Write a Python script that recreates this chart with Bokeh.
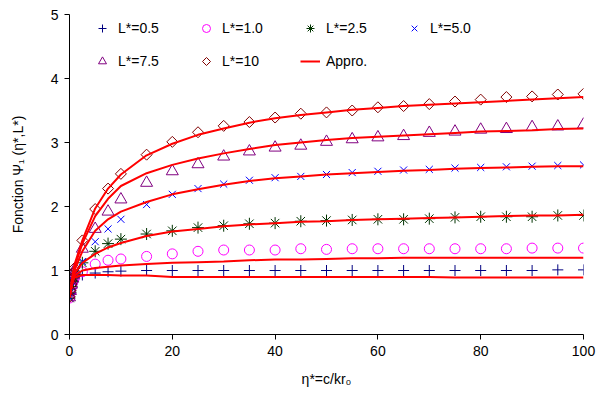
from bokeh.plotting import figure
from bokeh.models import Range1d, FixedTicker, Legend, LegendItem, CustomJS
from bokeh.embed import file_html
from bokeh.resources import INLINE

# ---- data ----
eta = [0, 0.2, 0.4, 0.6, 0.8, 1.0, 2.5, 5, 7.5, 10, 15, 20, 25, 30, 35, 40,
       45, 50, 55, 60, 65, 70, 75, 80, 85, 90, 95, 100]

psi_L05 = [0.56, 0.64, 0.72, 0.79, 0.84, 0.87, 0.93, 0.96, 0.98, 0.99, 1.00, 1.00,
           1.00, 1.00, 1.00, 1.00, 1.00, 1.00, 1.00, 1.00, 1.00, 1.00, 1.00, 1.00,
           1.00, 1.00, 1.01, 1.01]
psi_L1 = [0.57, 0.66, 0.74, 0.81, 0.86, 0.90, 0.98, 1.10, 1.16, 1.18, 1.22, 1.26,
          1.30, 1.32, 1.32, 1.32, 1.34, 1.33, 1.34, 1.34, 1.34, 1.34, 1.34, 1.34,
          1.34, 1.35, 1.35, 1.35]
psi_L25 = [0.57, 0.66, 0.75, 0.83, 0.89, 0.94, 1.12, 1.30, 1.42, 1.49, 1.57, 1.62,
           1.67, 1.70, 1.73, 1.74, 1.77, 1.78, 1.79, 1.80, 1.80, 1.81, 1.83, 1.84,
           1.84, 1.84, 1.86, 1.86]
psi_L5 = [0.58, 0.67, 0.76, 0.85, 0.92, 0.97, 1.14, 1.45, 1.65, 1.80, 2.03, 2.19,
          2.28, 2.35, 2.41, 2.45, 2.47, 2.50, 2.53, 2.55, 2.57, 2.58, 2.60, 2.61,
          2.62, 2.63, 2.64, 2.65]
psi_L75 = [0.58, 0.68, 0.78, 0.87, 0.95, 1.01, 1.34, 1.65, 1.92, 2.11, 2.37, 2.55,
           2.66, 2.78, 2.86, 2.92, 2.95, 3.01, 3.05, 3.08, 3.10, 3.15, 3.17, 3.20,
           3.21, 3.24, 3.25, 3.28]
psi_L10 = [0.59, 0.69, 0.79, 0.89, 0.97, 1.04, 1.47, 1.96, 2.28, 2.51, 2.81, 3.01,
           3.16, 3.26, 3.32, 3.39, 3.45, 3.47, 3.50, 3.55, 3.57, 3.60, 3.64, 3.67,
           3.71, 3.72, 3.75, 3.76]

appro_L05 = [0.58, 0.66, 0.74, 0.81, 0.86, 0.89, 0.93, 0.93, 0.93, 0.92, 0.92, 0.90,
             0.90, 0.90, 0.90, 0.90, 0.90, 0.90, 0.90, 0.90, 0.90, 0.90, 0.89, 0.89,
             0.89, 0.89, 0.89, 0.89]
appro_L1 = [0.58, 0.67, 0.75, 0.82, 0.88, 0.92, 1.00, 1.04, 1.06, 1.08, 1.10, 1.12,
            1.13, 1.14, 1.16, 1.17, 1.17, 1.18, 1.19, 1.19, 1.20, 1.20, 1.20, 1.20,
            1.20, 1.20, 1.20, 1.20]
appro_L25 = [0.58, 0.67, 0.76, 0.84, 0.91, 0.96, 1.12, 1.26, 1.36, 1.43, 1.54, 1.61,
             1.65, 1.69, 1.72, 1.74, 1.76, 1.77, 1.79, 1.80, 1.81, 1.82, 1.83, 1.84,
             1.85, 1.86, 1.86, 1.87]
appro_L5 = [0.58, 0.68, 0.78, 0.87, 0.95, 1.01, 1.30, 1.62, 1.80, 1.92, 2.07, 2.19,
            2.27, 2.34, 2.40, 2.44, 2.47, 2.50, 2.52, 2.54, 2.56, 2.57, 2.59, 2.60,
            2.61, 2.62, 2.63, 2.63]
appro_L75 = [0.58, 0.69, 0.80, 0.90, 0.99, 1.06, 1.42, 1.85, 2.12, 2.32, 2.52, 2.65,
             2.75, 2.83, 2.90, 2.96, 3.00, 3.04, 3.07, 3.09, 3.11, 3.13, 3.15, 3.17,
             3.18, 3.19, 3.21, 3.22]
appro_L10 = [0.59, 0.70, 0.81, 0.92, 1.02, 1.10, 1.47, 1.97, 2.28, 2.50, 2.80, 2.98,
             3.12, 3.22, 3.31, 3.38, 3.43, 3.47, 3.51, 3.54, 3.57, 3.59, 3.61, 3.63,
             3.65, 3.67, 3.69, 3.71]

series_labels = ["L*=0.5", "L*=1.0", "L*=2.5", "L*=5.0", "L*=7.5", "L*=10"]
appro_label = "Appro."
x_ticks = [0, 20, 40, 60, 80, 100]
y_ticks = [0, 1, 2, 3, 4, 5]
x_label = "\u03b7*=c/kr\u2080"
y_label = "Fonction \u03a8\u2081 (\u03b7*,L*)"

FONT = "Liberation Sans"

diamond_def = CustomJS(code="""
export default (args, obj, {ctx, i, r, visuals}) => {
    ctx.moveTo(0, -r)
    ctx.lineTo(r, 0)
    ctx.lineTo(0, r)
    ctx.lineTo(-r, 0)
    ctx.closePath()
    visuals.fill.apply(ctx, i)
    visuals.hatch.apply(ctx, i)
    visuals.line.apply(ctx, i)
}
""")

p = figure(width=596, height=396, output_backend="svg", toolbar_location=None,
           x_range=Range1d(0, 100), y_range=Range1d(0, 5),
           min_border_left=69, min_border_right=13, min_border_top=14,
           min_border_bottom=62)
p.outline_line_color = None
p.grid.visible = False
p.background_fill_color = "white"
p.border_fill_color = "white"

p.xaxis.ticker = FixedTicker(ticks=x_ticks)
p.yaxis.ticker = FixedTicker(ticks=y_ticks)
for ax in (p.xaxis, p.yaxis):
    ax.axis_line_color = "black"
    ax.axis_line_width = 1
    ax.major_tick_line_color = "black"
    ax.major_tick_out = 5
    ax.major_tick_in = 0
    ax.minor_tick_line_color = None
    ax.major_label_text_font = FONT
    ax.major_label_text_font_size = "14px"
    ax.major_label_text_color = "black"
    ax.axis_label_text_font = FONT
    ax.axis_label_text_font_size = "14px"
    ax.axis_label_text_font_style = "normal"
    ax.axis_label_text_color = "black"
    ax.major_label_standoff = 6

p.xaxis.axis_label = x_label
p.yaxis.axis_label = y_label
p.xaxis.axis_label_standoff = 12
p.yaxis.axis_label_standoff = 22

styles = [
    dict(marker="cross", size=11, line_color="#000080"),
    dict(marker="circle", size=10, line_color="#FF00FF"),
    dict(marker="asterisk", size=12, line_color="#003300"),
    dict(marker="x", size=10, line_color="#0000FF"),
    dict(marker="triangle", size=12, line_color="#800080"),
    dict(marker="@diamond", size=11, line_color="#800000",
         defs={"@diamond": diamond_def}),
]
series = [psi_L05, psi_L1, psi_L25, psi_L5, psi_L75, psi_L10]
appros = [appro_L05, appro_L1, appro_L25, appro_L5, appro_L75, appro_L10]

items = []
for lab, ys, st in zip(series_labels, series, styles):
    r = p.scatter(eta, ys, fill_color=None, line_width=1, **st)
    items.append(LegendItem(label=lab, renderers=[r]))

line_rs = []
for ys in appros:
    lr = p.line(eta, ys, line_color="#FF0000", line_width=2)
    line_rs.append(lr)
items.append(LegendItem(label=appro_label, renderers=[line_rs[0]]))

legend = Legend(items=items, location=(23, 263), orientation="horizontal",
                ncols=4, glyph_width=20, glyph_height=20, label_standoff=6,
                label_width=65, label_height=20, spacing=13, padding=0, margin=0,
                border_line_color=None, background_fill_alpha=0,
                label_text_font=FONT, label_text_font_size="14px",
                label_text_color="black")
p.add_layout(legend)

open("out.html", "w").write(file_html(p, INLINE))
